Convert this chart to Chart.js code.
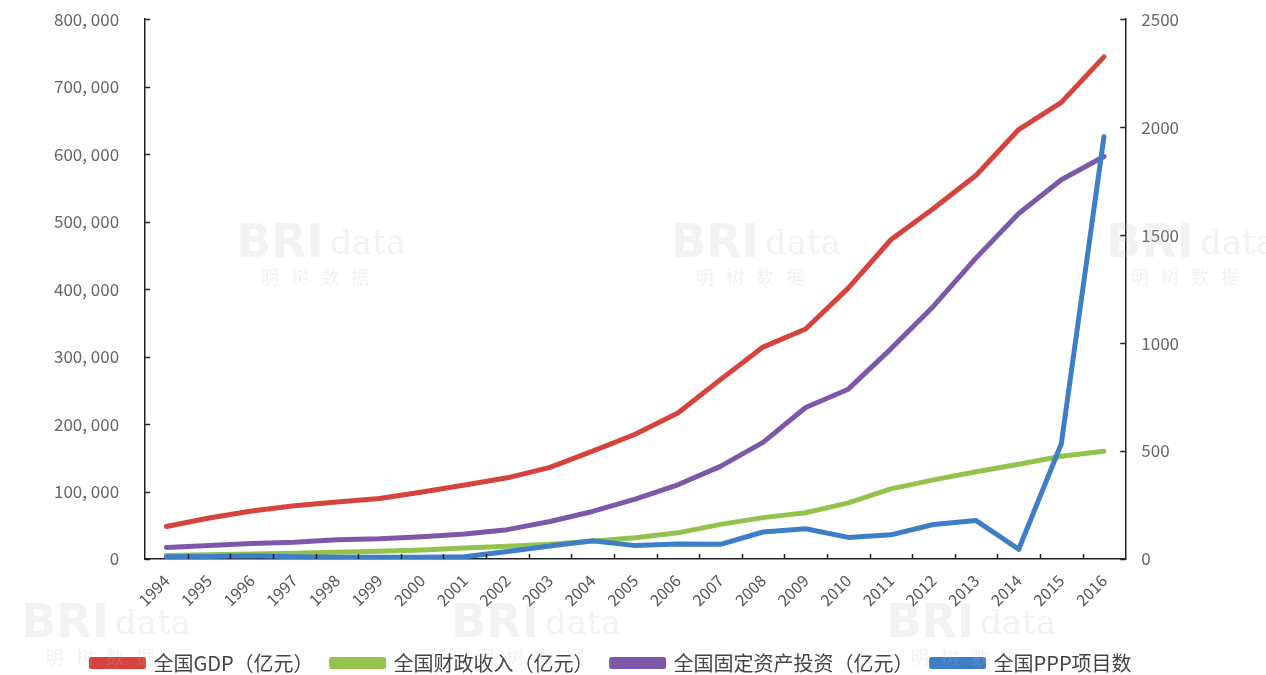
<!DOCTYPE html>
<html>
<head>
<meta charset="utf-8">
<script src="https://cdn.jsdelivr.net/npm/chart.js@4.4.1/dist/chart.umd.min.js"></script>
<style>
  html, body { margin: 0; padding: 0; background: #fff; }
  #wrap { width: 1266px; height: 675px; position: relative; overflow: hidden; }
  #box { position: absolute; left: 0; top: -17px; width: 1266px; height: 700px; }
</style>
</head>
<body>
<div id="wrap"><div id="box"><canvas id="chart"></canvas></div></div>
<script>
// Years on the category axis
const years = ['1994', '1995', '1996', '1997', '1998', '1999', '2000', '2001', '2002', '2003', '2004',
    '2005', '2006', '2007', '2008', '2009', '2010', '2011', '2012', '2013', '2014', '2015', '2016'];

// 全国GDP（亿元）
const gdp = [48198, 60794, 71177, 78973, 84402, 89677, 99215, 109655, 120333, 135823, 159878,
    184937, 216314, 265810, 314045, 340903, 401513, 473104, 519470, 568845, 636463, 676708, 744127];

// 全国财政收入（亿元）
const fiscalRevenue = [5218, 6242, 7408, 8651, 9876, 11444, 13395, 16386, 18904, 21715, 26396,
    31649, 38760, 51322, 61330, 68518, 83102, 103874, 117254, 129210, 140370, 152269, 159552];

// 全国固定资产投资（亿元）
const fixedInvestment = [17042, 20019, 22914, 24941, 28406, 29855, 32918, 37214, 43500, 55567, 70477,
    88774, 109998, 137324, 172828, 224599, 251684, 311485, 374695, 446294, 512021, 561999, 596501];

// 全国PPP项目数 (right axis)
const pppProjects = [10, 12, 15, 10, 8, 8, 8, 10, 35, 60, 85,
    62, 70, 68, 125, 140, 100, 112, 160, 178, 45, 534, 1956];

const leftTicks = [0, 100000, 200000, 300000, 400000, 500000, 600000, 700000, 800000];
const rightTicks = [0, 500, 1000, 1500, 2000, 2500];

const FONT = '"Noto Sans CJK SC", "Noto Sans", sans-serif';

// short inward tick marks on all three axes
const innerTicks = {
    id: 'innerTicks',
    afterDatasetsDraw(chart) {
        const { ctx, chartArea, scales } = chart;
        ctx.save();
        ctx.strokeStyle = '#222';
        ctx.lineWidth = 1.5;
        ctx.beginPath();
        scales.y.ticks.forEach((t, i) => {
            const py = Math.round(scales.y.getPixelForTick(i)) + 0.5;
            ctx.moveTo(chartArea.left, py);
            ctx.lineTo(chartArea.left + 5, py);
        });
        scales.y1.ticks.forEach((t, i) => {
            const py = Math.round(scales.y1.getPixelForTick(i)) + 0.5;
            ctx.moveTo(chartArea.right, py);
            ctx.lineTo(chartArea.right - 5, py);
        });
        // category boundaries
        const step = (chartArea.right - chartArea.left) / years.length;
        for (let i = 1; i < years.length; i++) {
            const px = Math.round(scales.x.getPixelForValue(i) - step / 2) + 0.5;
            ctx.moveTo(px, chartArea.bottom);
            ctx.lineTo(px, chartArea.bottom - 5);
        }
        ctx.stroke();
        ctx.restore();
    }
};

// faint BRIdata watermarks behind the lines
const watermark = {
    id: 'watermark',
    beforeDatasetsDraw(chart) {
        const { ctx } = chart;
        const spots = [[310, 262], [745, 262], [1180, 262], [95, 642], [525, 642], [960, 642]];
        ctx.save();
        ctx.fillStyle = 'rgba(190,190,190,0.2)';
        ctx.textAlign = 'center';
        spots.forEach(([cx, cy]) => {
            ctx.font = 'bold 46px "DejaVu Sans", sans-serif';
            ctx.fillText('BRI', cx - 30, cy);
            ctx.font = '34px "DejaVu Serif", serif';
            ctx.fillText('data', cx + 58, cy);
            ctx.font = '18px ' + FONT;
            ctx.fillText('明   树   数   据', cx + 5, cy + 32);
        });
        ctx.restore();
    }
};

const lineStyle = (label, data, color, axis, order) => ({
    label,
    data,
    yAxisID: axis,
    borderColor: color,
    backgroundColor: color,
    borderWidth: 5,
    pointRadius: 0,
    tension: 0,
    borderJoinStyle: 'round',
    borderCapStyle: 'round',
    order
});

const tickNumber = v => v.toLocaleString('en-US').replace(/,/g, ', ');

new Chart(document.getElementById('chart'), {
    type: 'line',
    data: {
        labels: years,
        datasets: [
            lineStyle('全国GDP（亿元）', gdp, '#D6433D', 'y', 4),
            lineStyle('全国财政收入（亿元）', fiscalRevenue, '#94C24E', 'y', 3),
            lineStyle('全国固定资产投资（亿元）', fixedInvestment, '#7E58A8', 'y', 2),
            lineStyle('全国PPP项目数', pppProjects, '#3E7EC6', 'y1', 1)
        ]
    },
    options: {
        responsive: true,
        maintainAspectRatio: false,
        animation: false,
        layout: { padding: { left: 28, right: 71, top: 0, bottom: 0 } },
        plugins: {
            tooltip: { enabled: false },
            legend: {
                position: 'bottom',
                labels: {
                    font: { family: FONT, size: 20 },
                    color: '#444',
                    boxWidth: 52,
                    boxHeight: 7,
                    padding: 18,
                    sort: (a, b) => a.datasetIndex - b.datasetIndex
                }
            }
        },
        scales: {
            x: {
                offset: true,
                grid: { display: false, drawTicks: false },
                border: { display: true, color: '#222', width: 1.5 },
                afterFit: s => { s.height = 76; },
                ticks: {
                    font: { family: FONT, size: 16 },
                    color: '#555',
                    maxRotation: 45,
                    minRotation: 45,
                    autoSkip: false,
                    padding: 12
                }
            },
            y: {
                position: 'left',
                min: 0,
                max: 800000,
                afterBuildTicks: s => { s.ticks = leftTicks.map(v => ({ value: v })); },
                grid: { display: false, drawTicks: false },
                border: { display: true, color: '#222', width: 1.5 },
                ticks: {
                    font: { family: FONT, size: 17 },
                    color: '#666',
                    padding: 26,
                    callback: v => tickNumber(v)
                }
            },
            y1: {
                position: 'right',
                min: 0,
                max: 2500,
                afterBuildTicks: s => { s.ticks = rightTicks.map(v => ({ value: v })); },
                grid: { display: false, drawTicks: false },
                border: { display: true, color: '#222', width: 1.5 },
                ticks: {
                    font: { family: FONT, size: 17 },
                    color: '#666',
                    padding: 16,
                    callback: v => String(v)
                }
            }
        }
    },
    plugins: [watermark, innerTicks]
});
</script>
</body>
</html>
